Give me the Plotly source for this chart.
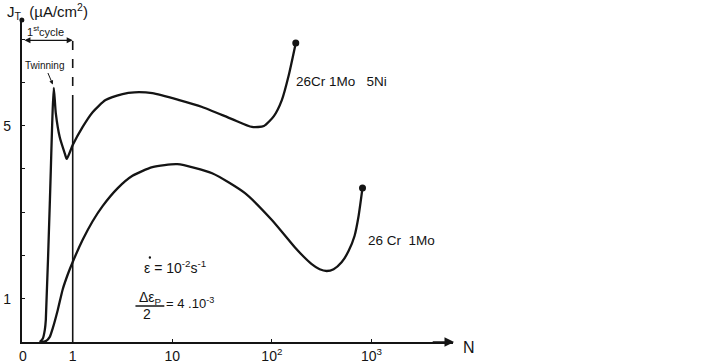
import plotly.graph_objects as go

# Axis positions: x = log10(N) for N >= 1; the first cycle (N from 0 to 1) spans -0.5 .. 0
x_tick_pos = [-0.5, 0, 1, 2, 3]
x_tick_text = ["0", "1", "10", "10<sup>2</sup>", "10<sup>3</sup>"]
y_tick_pos = [1, 5]
y_tick_text = ["1", "5"]

# 26Cr 1Mo 5Ni
ni_x = [-0.33, -0.30, -0.28, -0.27, -0.23, -0.19, -0.17, -0.13, -0.08, -0.06, 0.0,
        0.10, 0.20, 0.33, 0.50, 0.62, 0.80, 1.07, 1.30, 1.60, 1.80, 1.92, 2.02,
        2.10, 2.17, 2.24]
ni_y = [0.0, 0.08, 0.28, 0.51, 3.2, 5.87, 5.29, 4.73, 4.36, 4.23, 4.55,
        4.97, 5.31, 5.59, 5.73, 5.77, 5.75, 5.59, 5.43, 5.15, 4.97, 4.99, 5.22,
        5.59, 6.17, 6.91]

# 26Cr 1Mo
mo_x = [-0.33, -0.27, -0.23, -0.20, -0.15, -0.10, -0.05, 0.0, 0.10, 0.20, 0.30,
        0.45, 0.60, 0.80, 1.05, 1.40, 1.73, 2.00, 2.23, 2.32, 2.40, 2.48, 2.55,
        2.62, 2.70, 2.77, 2.83, 2.87, 2.91]
mo_y = [0.0, 0.02, 0.12, 0.32, 0.74, 1.22, 1.56, 1.85, 2.36, 2.79, 3.14,
        3.55, 3.84, 4.04, 4.11, 3.90, 3.44, 2.82, 2.19, 1.97, 1.80, 1.68, 1.64,
        1.68, 1.84, 2.10, 2.45, 2.90, 3.56]

INK = "#141414"
FONT = "Liberation Sans"

W, H = 720, 364
def px(x):
    return x / W
def py(y):
    return 1 - y / H

fig = go.Figure()
for xs, ys in [(ni_x, ni_y), (mo_x, mo_y)]:
    fig.add_trace(go.Scatter(x=xs, y=ys, mode="lines",
                             line=dict(color=INK, width=2.3, shape="spline", smoothing=0.6),
                             hoverinfo="skip", showlegend=False))
    fig.add_trace(go.Scatter(x=[xs[-1]], y=[ys[-1]], mode="markers",
                             marker=dict(color=INK, size=7), cliponaxis=False,
                             hoverinfo="skip", showlegend=False))

fig.update_layout(
    width=W, height=H,
    margin=dict(l=0, r=0, t=0, b=0),
    paper_bgcolor="white", plot_bgcolor="white",
    font=dict(family=FONT, color=INK, size=12),
    xaxis=dict(domain=[19 / W, 452 / W], range=[-0.51, 3.82],
               tickvals=x_tick_pos, ticktext=x_tick_text,
               showgrid=False, zeroline=False, showline=True, linecolor=INK, linewidth=2,
               ticks="inside", ticklen=3, tickcolor=INK, tickfont=dict(size=14)),
    yaxis=dict(domain=[1 - 342 / H, 1 - 20 / H], range=[0, 7.44],
               tickvals=y_tick_pos, ticktext=y_tick_text,
               showgrid=False, zeroline=False, showline=True, linecolor=INK, linewidth=2,
               ticks="inside", ticklen=3, tickcolor=INK, tickfont=dict(size=14),
               ticklabelstandoff=6,
               minor=dict(tick0=0, dtick=1, ticks="inside", ticklen=3, tickcolor=INK,
                          showgrid=False)),
)

# N = 1 boundary
fig.add_shape(type="line", x0=0, x1=0, y0=0, y1=5.5, xref="x", yref="y",
              line=dict(color=INK, width=1.6))
fig.add_shape(type="line", x0=0, x1=0, y0=5.5, y1=7.14, xref="x", yref="y",
              line=dict(color=INK, width=1.6, dash="dash"))
# dot at top of y axis
fig.add_shape(type="circle", xref="paper", yref="paper",
              x0=px(16.5), x1=px(21.5), y0=py(22.5), y1=py(17.5),
              fillcolor=INK, line=dict(color=INK, width=0))
# dot over epsilon (strain rate)
fig.add_shape(type="circle", xref="paper", yref="paper",
              x0=px(146.3), x1=px(148.7), y0=py(258.7), y1=py(256.3),
              fillcolor=INK, line=dict(color=INK, width=0))

ann = []
# x-axis arrow head
ann.append(dict(x=3.83, y=0, ax=3.6, ay=0, xref="x", yref="y", axref="x", ayref="y",
                showarrow=True, arrowhead=2, arrowsize=1.2, arrowwidth=1.6, arrowcolor=INK, text=""))
# 1st cycle double arrow
ann.append(dict(x=0, y=6.97, ax=-0.5, ay=6.97, xref="x", yref="y", axref="x", ayref="y",
                showarrow=True, arrowhead=2, startarrowhead=2, arrowside="end+start",
                arrowsize=1, arrowwidth=1.2, arrowcolor=INK, text=""))
ann.append(dict(x=px(22), y=py(31), xref="paper", yref="paper", xanchor="left", yanchor="middle",
                text="1<sup>st</sup>cycle", showarrow=False, font=dict(size=11)))
# Twinning
ann.append(dict(x=-0.2, y=5.95, ax=-0.255, ay=6.25, xref="x", yref="y", axref="x", ayref="y",
                showarrow=True, arrowhead=2, arrowsize=0.8, arrowwidth=1, arrowcolor=INK, text=""))
ann.append(dict(x=px(20), y=py(65), xref="paper", yref="paper", xanchor="left", yanchor="middle",
                text="Twinning", showarrow=False, font=dict(size=10)))
# y label
ann.append(dict(x=px(2), y=py(11), xref="paper", yref="paper", xanchor="left", yanchor="middle",
                text="J<sub>T</sub>  (µA/cm<sup>2</sup>)", showarrow=False, font=dict(size=15)))
# N label
ann.append(dict(x=px(460), y=py(347), xref="paper", yref="paper", xanchor="left", yanchor="middle",
                text="N", showarrow=False, font=dict(size=16)))
# series labels
ann.append(dict(x=px(292), y=py(81), xref="paper", yref="paper", xanchor="left", yanchor="middle",
                text="26Cr 1Mo   5Ni", showarrow=False, font=dict(size=13.5)))
ann.append(dict(x=px(365), y=py(240), xref="paper", yref="paper", xanchor="left", yanchor="middle",
                text="26 Cr  1Mo", showarrow=False, font=dict(size=13.5)))
# conditions
ann.append(dict(x=px(140), y=py(267), xref="paper", yref="paper", xanchor="left", yanchor="middle",
                text="ε = 10<sup>-2</sup>s<sup>-1</sup>", showarrow=False, font=dict(size=14)))
ann.append(dict(x=px(148), y=py(298), xref="paper", yref="paper", xanchor="center", yanchor="middle",
                text="Δε<sub>P</sub>", showarrow=False, font=dict(size=14)))
ann.append(dict(x=px(145), y=py(314), xref="paper", yref="paper", xanchor="center", yanchor="middle",
                text="2", showarrow=False, font=dict(size=14)))
ann.append(dict(x=px(162), y=py(303), xref="paper", yref="paper", xanchor="left", yanchor="middle",
                text="= 4 .10<sup>-3</sup>", showarrow=False, font=dict(size=13)))
fig.add_shape(type="line", xref="paper", yref="paper", x0=px(133), x1=px(162),
              y0=py(306), y1=py(306), line=dict(color=INK, width=1.5))

fig.update_layout(annotations=ann)
fig.write_html("out.html")
